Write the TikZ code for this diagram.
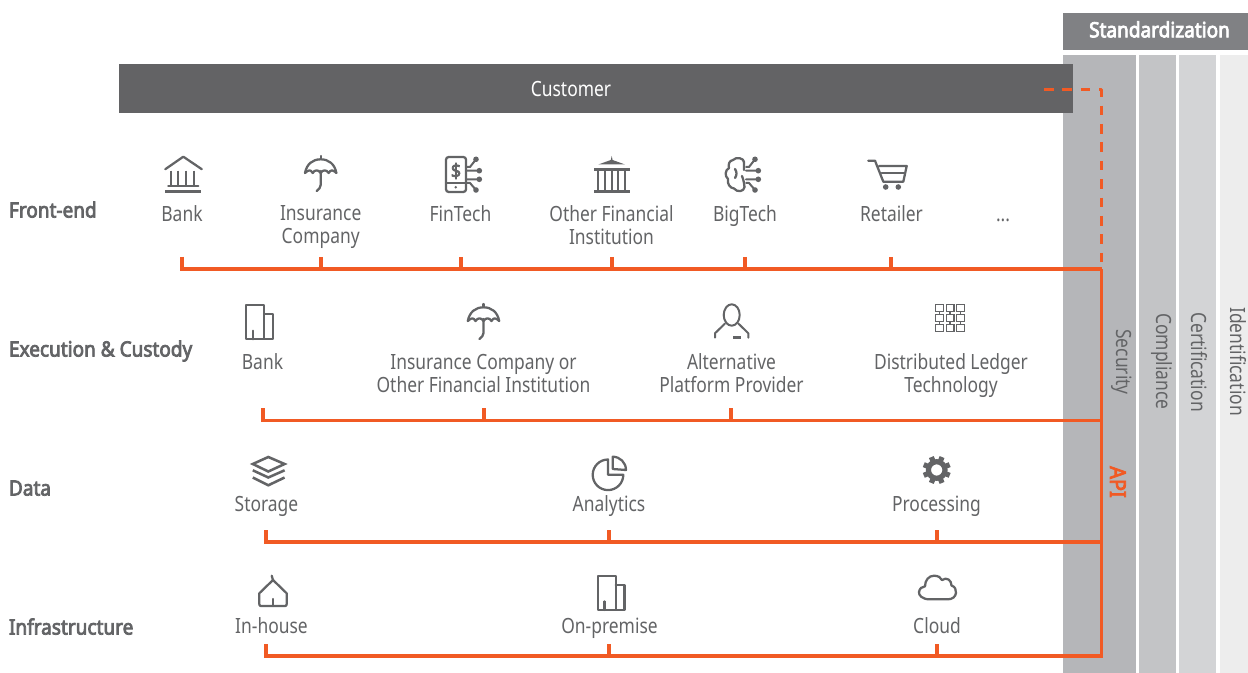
\documentclass[tikz,border=0pt]{standalone}
\usepackage{fontspec}
\setmainfont{Noto Sans}[FakeStretch=0.83,BoldFont={Noto Sans},BoldFeatures={FakeStretch=0.905,FakeBold=3.6}]
\definecolor{txt}{HTML}{636466}
\definecolor{api}{HTML}{F15A24}
\definecolor{stdc}{HTML}{808184}
\definecolor{custc}{HTML}{636365}
\definecolor{colA}{HTML}{B5B6B9}
\definecolor{colB}{HTML}{C3C4C6}
\definecolor{colC}{HTML}{D3D4D6}
\definecolor{colD}{HTML}{EDEDED}
\newcommand{\lblfont}{\fontsize{15.75}{17.25}\selectfont}
\tikzset{
  lbl/.style={anchor=north,inner sep=0pt,outer sep=0pt,align=center,text=txt,font=\lblfont,execute at begin node=\strut},
  rowlbl/.style={anchor=north west,inner sep=0pt,outer sep=0pt,text=txt,font=\lblfont\bfseries,execute at begin node=\strut},
  vlbl/.style={anchor=base,rotate=-90,inner sep=0pt,outer sep=0pt,text=txt,font=\lblfont},
  bus/.style={draw=api,line width=2.7pt,line join=miter},
  dashbus/.style={draw=api,line width=2.7pt,dash pattern=on 7.2pt off 6.6pt,line join=round},
  ico/.style={draw=txt,line width=1.7pt,line cap=round,line join=round},
  icobank/.pic={
    \draw[ico] (-18,12.5)--(0,0)--(18.5,12.5);
    \draw[ico,line width=1.6pt,line cap=butt] (-12.5,14)--(-12.5,28.5) (-5,14)--(-5,28.5) (3,14)--(3,28.5) (11,14)--(11,28.5);
    \draw[ico] (-15,29)--(15,29);
    \draw[draw=txt,line width=2.25pt] (-18,35)--(18,35);
  },
  icoumb/.pic={
    \draw[ico] (0,0)--(0,3.3);
    \draw[ico] (-15.7,17) .. controls (-14,8) and (-8,3.3) .. (0,3.3) .. controls (8,3.3) and (14,8) .. (15.7,17);
    \draw[ico] (-15.7,17) .. controls (-12,13.5) and (-10,13.5) .. (-8,17) .. controls (-6,13.5) and (-2,13.5) .. (0,17) .. controls (2,13.5) and (6,13.5) .. (8,17) .. controls (10,13.5) and (12,13.5) .. (15.7,17);
    \draw[ico] (0,15)--(0,29) .. controls (0,32) and (-2,33) .. (-4,35);
  },
  icocirc/.pic={
    \draw[ico,line width=1.5pt] (1,-8)--(4,-8)--(10,-15.7) (1,-4.3)--(13.3,-4.3) (1,4.3)--(13.3,4.3) (1,8)--(4,8)--(10,15);
    \fill[txt] (10,-15.7) circle (2.8) (13.3,-4.3) circle (2.8) (13.3,4.3) circle (2.8) (10,15) circle (2.8);
  },
  icobuild/.pic={
    \draw[ico,line join=round] (0,34.3)--(0,0)--(18,0)--(18,34.3)--cycle;
    \draw[ico] (18,9)--(26.7,9)--(26.7,34.3)--(18,34.3);
    \draw[ico] (6.7,25.7)--(6.7,34.3);
  },
}
\begin{document}
\begin{tikzpicture}[x=0.75pt,y=-0.75pt]
\useasboundingbox (0,0) rectangle (1248,673);
% columns
\fill[colA] (1063,55) rectangle (1136,673);
\fill[colB] (1139,55) rectangle (1176,673);
\fill[colC] (1179,55) rectangle (1216,673);
\fill[colD] (1220,55) rectangle (1248,673);
% headers
\node[fill=stdc,minimum width=138.75pt,minimum height=27.75pt,inner sep=0pt,text=white,font=\lblfont\bfseries] (std) at (1155.5,31.5) {\hspace{6pt}\smash{\raisebox{-4.35pt}{Standardization}}};
\node[fill=custc,minimum width=715.5pt,minimum height=36.75pt,inner sep=0pt,text=white,font=\lblfont] (cust) at (596,88.5) {\hspace{-37.5pt}\smash{\raisebox{-6pt}{Customer}}};
% vertical labels
\node[vlbl] (sec) at (1116,362) {Security};
\node[vlbl] (comp) at (1156,361.5) {Compliance};
\node[vlbl] (cert) at (1191.5,362) {Certification};
\node[vlbl] (iden) at (1230.5,361.5) {Identification};
\node[vlbl,text=api,font=\fontsize{16.5}{18}\selectfont\bfseries] (apil) at (1110,482) {API};
% row labels
\node[rowlbl] (rfe) at (9,201.4) {Front-end};
\node[rowlbl] (rex) at (9,340.4) {Execution \& Custody};
\node[rowlbl] (rda) at (9,479.4) {Data};
\node[rowlbl] (rin) at (9,618.4) {Infrastructure};
% front-end labels
\node[lbl] (fBank) at (182,205.6) {Bank};
\node[lbl] (fIns) at (320.7,205.6) {Insurance\\Company};
\node[lbl] (fFin) at (460.5,205.6) {FinTech};
\node[lbl] (fOth) at (611.5,205.6) {Other Financial\\Institution};
\node[lbl] (fBig) at (745,205.6) {BigTech};
\node[lbl] (fRet) at (891.5,205.6) {Retailer};
\node[lbl] (fDot) at (1003,205.6) {...};
% execution labels
\node[lbl] (eBank) at (262.5,353.4) {Bank};
\node[lbl] (eIns) at (483.5,353.8) {Insurance Company or\\Other Financial Institution};
\node[lbl] (eAlt) at (731.5,353.8) {Alternative\\Platform Provider};
\node[lbl] (eDlt) at (951,353.8) {Distributed Ledger\\Technology};
% data labels
\node[lbl] (dSto) at (266.5,495.6) {Storage};
\node[lbl] (dAna) at (609,495.6) {Analytics};
\node[lbl] (dPro) at (936.5,495.6) {Processing};
% infrastructure labels
\node[lbl] (iHou) at (271.5,617.6) {In-house};
\node[lbl] (iPre) at (609.5,617.6) {On-premise};
\node[lbl] (iClo) at (937,617.6) {Cloud};
% connector coordinates
\coordinate (spF) at (1101.5,269);
\coordinate (spE) at (1101.5,420.5);
\coordinate (spD) at (1101.5,542);
\coordinate (spI) at (1101.5,656);
\coordinate (dashS) at (1044,89.5);
\coordinate (dashC) at (1101.5,89.5);
\foreach \n/\x in {a/182,b/321,c/461,d/612,e/745,f/891}{
  \coordinate (ft\n) at (\x,257);
  \draw[bus] (ft\n) -- (ft\n |- spF);
}
\foreach \n/\x in {a/263,b/484,c/731}{
  \coordinate (et\n) at (\x,408);
  \draw[bus] (et\n) -- (et\n |- spE);
}
\foreach \n/\x in {a/266,b/609,c/937}{
  \coordinate (dt\n) at (\x,530);
  \draw[bus] (dt\n) -- (dt\n |- spD);
  \coordinate (it\n) at (\x,644);
  \draw[bus] (it\n) -- (it\n |- spI);
}
\draw[bus] (fta) -- (fta |- spF) -- (spF);
\draw[bus] (eta) -- (eta |- spE) -- (spE);
\draw[bus] (dta) -- (dta |- spD) -- (spD);
\draw[bus] (ita) -- (ita |- spI) -- (spI) -- (spF);
\draw[dashbus] (dashS) -- (dashC) -- (spF);
% front-end icons
\pic at (183.3,156.7) {icobank};
\pic at (320.7,156) {icoumb};
\draw[ico,rounded corners=2pt] (446,157) rectangle (466,192);
\draw[ico] (446,183.3)--(466,183.3);
\fill[txt] (455.7,187.3) circle (1.4);
\node[inner sep=0pt,text=txt,font=\fontsize{14.5}{15}\selectfont\bfseries] (dollar) at (456,171) {\$};
\pic at (466,175) {icocirc};
% other financial institution
\fill[txt] (611.7,156) -- (612.6,160) -- (625,164.5) -- (598.3,164.5) -- (610.8,160) -- cycle;
\draw[draw=txt,line width=2.6pt] (594,169.3)--(630,169.3);
\draw[draw=txt,line width=1.7pt] (598.3,171)--(598.3,190) (605,171)--(605,190) (611.7,171)--(611.7,190) (618.3,171)--(618.3,190) (625,171)--(625,190);
\draw[draw=txt,line width=1.7pt] (594,191.5)--(630,191.5);
% brain
\draw[ico] (744,162) .. controls (744,158) and (736,156.5) .. (733,160) .. controls (729,160.5) and (728,165) .. (729,168) .. controls (725,170) and (724.5,176) .. (728,179) .. controls (727,184) and (730,188) .. (734,188.5) .. controls (737,192.5) and (744,192) .. (744.5,187);
\draw[ico] (744,162)--(744,170) (742,176) .. controls (744,181) and (744,184) .. (744.5,187);
\draw[ico] (735,169) .. controls (737,172) and (737,175) .. (735,178);
\pic at (745,175) {icocirc};
% cart
\draw[ico] (868.3,160.7)--(875,160.7)--(883.3,181.7)--(903.3,181.7)--(906.7,166)--(879.3,166);
\draw[ico] (881.7,173.3)--(905,173.3);
\fill[txt] (885.7,187) circle (2.8) (898.3,187) circle (2.8);
% execution icons
\pic at (246,305) {icobuild};
\pic at (483.5,304) {icoumb};
\draw[ico,line width=1.5pt] (731.7,315) ellipse (8 and 10.7);
\draw[ico,line width=1.5pt] (725,323.5)--(715,333.3)--(715,337.7) (738.3,323.5)--(748.3,333.3)--(748.3,337.7);
\draw[draw=txt,line width=1.6pt] (733.3,337.5)--(741,337.5);
\foreach \cx in {939.5,950,960.2}{
  \foreach \cy in {308.3,318.3,328.3}{
    \draw[draw=txt,line width=0.9pt] (\cx-3.9,\cy-3.4) rectangle (\cx+3.9,\cy+3.4);
  }
}
\foreach \cx in {939.5,950,960.2}{
  \draw[draw=txt,line width=0.9pt] (\cx,311.7)--(\cx,314.9) (\cx,321.7)--(\cx,324.9);
}
% data icons
\draw[ico,line width=1.9pt,line join=miter] (252.8,464)--(268.3,457)--(284.6,464)--(268.3,471.5)--cycle;
\draw[ico,line width=1.9pt,line cap=butt,line join=miter] (252.8,470.3)--(268.3,477.5)--(284.6,470.3);
\draw[ico,line width=1.9pt,line cap=butt,line join=miter] (252.8,477.5)--(268.3,485.3)--(284.6,477.5);
\draw[ico] (608,459.5) arc[start angle=-90,end angle=-360,radius=15.3] -- (608,474.8) -- cycle;
\draw[ico] (612.7,469)--(612.7,456.7) arc[start angle=-90,end angle=0,radius=13.3] -- cycle;
\draw[draw=txt,line width=3.9pt] (936.7,470) circle (8.3);
\foreach \a in {22.5,67.5,...,337.5}{
  \draw[draw=txt,line width=3.9pt] (936.7,470) ++(\a:9) -- ++(\a:5);
}
% infrastructure icons
\draw[ico] (271.7,575.7) .. controls (272,578) and (273,579) .. (273,580);
\draw[ico] (273,580)--(286.7,593.3)--(286.7,604) .. controls (286.7,605.5) and (286,606) .. (285,606) -- (261,606) .. controls (260,606) and (259.3,605.5) .. (259.3,604) -- (259.3,593.3) -- cycle;
\draw[ico] (272.7,599)--(272.7,606);
\begin{scope}[shift={(597.7,575.7)},scale=0.87]
\pic at (0,0) {icobuild};
\end{scope}
\draw[ico] (930,599.3) .. controls (922,599.5) and (918.5,595) .. (919,592) .. controls (919.5,588.5) and (922,586.5) .. (925,586.3) .. controls (925,580) and (929,575.7) .. (934,575.7) .. controls (938,575.7) and (941,577.5) .. (942,580) .. controls (947,576.5) and (951.5,580.5) .. (951.5,585.5) .. controls (955,586.5) and (956.5,590) .. (956,593) .. controls (955.5,597) and (952,599.3) .. (948,599.3) -- cycle;
\end{tikzpicture}
\end{document}
